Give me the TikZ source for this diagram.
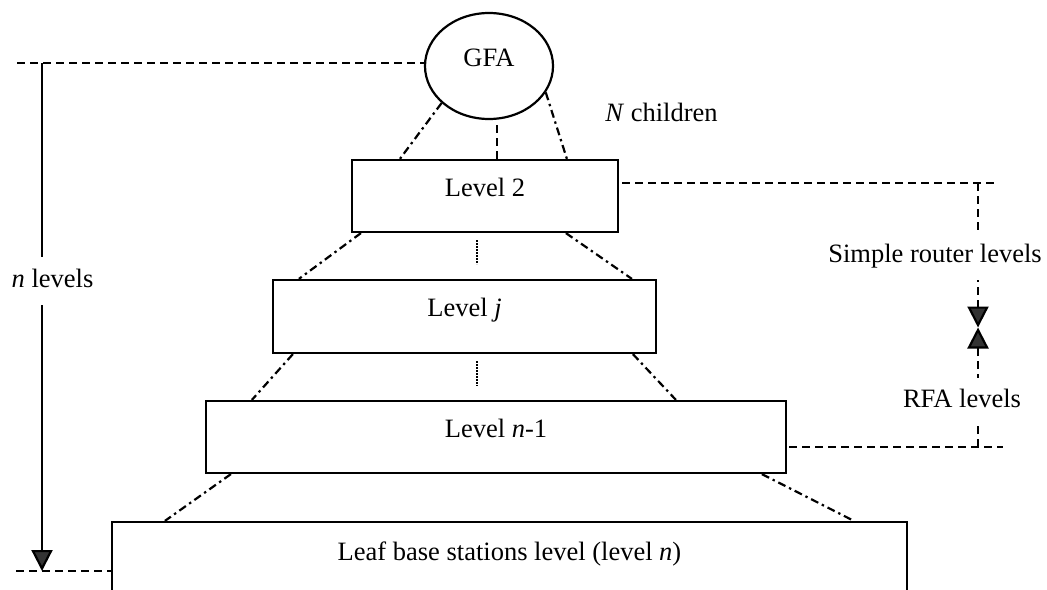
\documentclass[tikz,border=0pt]{standalone}
\usepackage{fontspec}
\setmainfont{Liberation Serif}
\usetikzlibrary{arrows.meta,shapes.geometric}
\begin{document}
\begin{tikzpicture}[x=0.5pt,y=-0.5pt,
  font=\fontsize{13.25}{15.5}\selectfont,
  levelbox/.style={draw,line width=1.1pt,rectangle,inner sep=0pt,text height=9pt,text depth=9pt},
  link/.style={line width=1.1pt,dash pattern=on 4pt off 2pt on 1.2pt off 2pt},
  guide/.style={line width=1.1pt,dash pattern=on 4pt off 2.5pt},
  fine/.style={line width=0.7pt,dash pattern=on 0.7pt off 0.8pt},
  tip/.style={-{Triangle[width=10.5pt,length=10.5pt,fill=black!80]}},
  tag/.style={fill=white,inner xsep=1pt,inner ysep=6pt,text height=9pt,text depth=3pt}]
\path[use as bounding box,clip] (0,0) rectangle (1047,589);

% hierarchy: root, intermediate levels, leaves
\node[draw,ellipse,line width=1.1pt,minimum width=64pt,minimum height=53pt,
      inner sep=0pt,text height=9pt,text depth=9pt] (gfa) at (489,66) {GFA};
\node[levelbox,minimum width=133pt,minimum height=36pt] (l2) at (485,196) {Level 2};
\node[levelbox,minimum width=191.5pt,minimum height=36.5pt] (lj) at (464.5,316.5) {Level \textit{j}};
\node[levelbox,minimum width=290pt,minimum height=36pt] (ln1) at (496,437) {Level \textit{n}-1};
\node[levelbox,minimum width=397.5pt,minimum height=44pt,text depth=14.9pt] (leaf) at (509.5,566)
  {Leaf base stations level (level \textit{n})};

% links between levels
\draw[link] (gfa.218) -- ([xshift=24.5pt]l2.north west);
\draw[guide] ([shift={(4pt,-2.5pt)}]gfa.south) -- ([xshift=6pt]l2.north);
\draw[link] (gfa.-25) -- ([xshift=108pt]l2.north west);

\draw[link] ([xshift=5pt]l2.south west) -- ([xshift=13.5pt]lj.north west);
\draw[link] ([xshift=107.5pt]l2.south west) -- ([xshift=180pt]lj.north west);
\draw[fine] ([shift={(-4pt,-3.5pt)}]l2.south) -- ++(0,24);

\draw[link] ([xshift=10.5pt]lj.south west) -- ([xshift=23.5pt]ln1.north west);
\draw[link] ([xshift=180.5pt]lj.south west) -- ([xshift=235.5pt]ln1.north west);
\draw[fine] ([shift={(6.25pt,-3.5pt)}]lj.south) -- ++(0,25);

\draw[link] ([xshift=13pt]ln1.south west) -- ([xshift=27pt]leaf.north west);
\draw[link] ([xshift=278.5pt]ln1.south west) -- ([xshift=371.5pt]leaf.north west);

% left: total depth
\coordinate (ltop) at (17,63);
\coordinate (lbot) at (16,571);
\coordinate (nstart) at (42,63);
\coordinate (nend) at (42,571);
\draw[guide] (ltop) -- (ltop -| gfa.west);
\draw[guide] (lbot) -- (lbot -| leaf.west);
\draw[line width=1.1pt,tip] (nstart) -- (nend);
\node[tag] (nlev) at (52.5,281) {\textit{n} levels};

% right: router levels vs RFA levels
\coordinate (rtop) at (998,183);
\coordinate (rbot) at (1003,447);
\coordinate (rmid) at (978,327.5);
\draw[guide] ([shift={(1.5pt,6.5pt)}]l2.east) -- (rtop);
\draw[guide] ([shift={(1pt,-5pt)}]ln1.east) -- (rbot);
\draw[guide,tip] (rtop -| rmid) -- (rmid);
\draw[guide,tip] (rbot -| rmid) -- (rmid);
\node[tag] (srl) at (935,256) {Simple router levels};
\node[tag] (rfa) at (962,401.5) {RFA levels};

\node (nch) at (661.5,112) {\textit{N} children};
\end{tikzpicture}
\end{document}
